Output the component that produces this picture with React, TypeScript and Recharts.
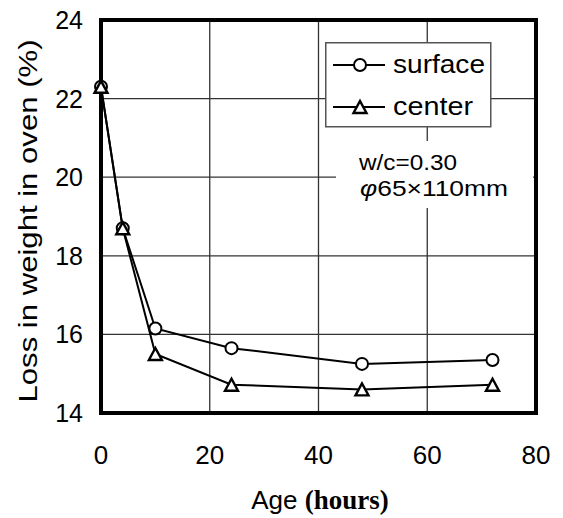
import React from 'react';
import {
  LineChart,
  Line,
  XAxis,
  YAxis,
  CartesianGrid,
  Legend,
  ReferenceArea,
  Customized,
} from 'recharts';

// Loss in weight measured in the oven vs. specimen age
const ageHours = [0, 4, 10, 24, 48, 72];
const surfaceLoss = [22.3, 18.7, 16.15, 15.65, 15.25, 15.35];
const centerLoss = [22.3, 18.7, 15.5, 14.72, 14.6, 14.72];

const xTicks = [0, 20, 40, 60, 80];
const yTicks = [14, 16, 18, 20, 22, 24];

const data = ageHours.map((age, i) => ({
  age,
  surface: surfaceLoss[i],
  center: centerLoss[i],
}));

const FONT = '"Liberation Sans", Arial, sans-serif';
const SERIF = '"Liberation Serif", "Times New Roman", serif';

const CircleDot = (props: any) => {
  const { cx, cy, index } = props;
  if (cx == null || cy == null) return null;
  return <circle key={`c-${index}`} cx={cx} cy={cy} r={6} fill="#fff" stroke="#000" strokeWidth={2} />;
};

const TriangleDot = (props: any) => {
  const { cx, cy, index } = props;
  if (cx == null || cy == null) return null;
  const pts = `${cx},${cy - 6} ${cx - 6.5},${cy + 6} ${cx + 6.5},${cy + 6}`;
  return <polygon key={`t-${index}`} points={pts} fill="#fff" stroke="#000" strokeWidth={2.4} strokeLinejoin="miter" />;
};

const XTick = ({ x, y, payload }: any) => (
  <text x={x} y={y + 51} textAnchor="middle" fontFamily={FONT} fontSize={26} fill="#000">
    {payload.value}
  </text>
);

const YTick = ({ x, y, payload }: any) => (
  <text x={x} y={y + 9} textAnchor="end" fontFamily={FONT} fontSize={25} fill="#000">
    {payload.value}
  </text>
);

const LegendBox = () => (
  <svg width={167} height={86} style={{ display: 'block' }}>
    <rect x={0.75} y={0.75} width={165} height={84} fill="#fff" stroke="#555" strokeWidth={1.5} />
    <line x1={8} y1={23} x2={60} y2={23} stroke="#000" strokeWidth={2} />
    <CircleDot cx={35} cy={23} index={0} />
    <text x={68} y={31} fontFamily={FONT} fontSize={25} textLength={92} lengthAdjust="spacingAndGlyphs">surface</text>
    <line x1={8} y1={65} x2={60} y2={65} stroke="#000" strokeWidth={2} />
    <TriangleDot cx={35} cy={65} index={1} />
    <text x={68} y={73} fontFamily={FONT} fontSize={25} textLength={80} lengthAdjust="spacingAndGlyphs">center</text>
  </svg>
);

// mix/specimen note, on a white patch that hides the grid behind it
const Notes = () => (
  <g fontFamily={FONT} fill="#000">
    <rect x={336} y={141} width={197} height={67} fill="#fff" />
    <text x={359} y={170} fontSize={22} textLength={98} lengthAdjust="spacingAndGlyphs">w/c=0.30</text>
    <text x={360} y={196} fontSize={22} textLength={148} lengthAdjust="spacingAndGlyphs">
      <tspan fontStyle="italic">φ</tspan>65×110mm
    </text>
  </g>
);

const AgeLabel = () => (
  <text x={320} y={509} textAnchor="middle" fill="#000">
    <tspan fontFamily={FONT} fontSize={26}>Age </tspan>
    <tspan fontFamily={SERIF} fontSize={27} fontWeight="bold">(hours)</tspan>
  </text>
);

const LossLabel = () => (
  <text
    x={37}
    y={221}
    transform="rotate(-90, 37, 221)"
    textAnchor="middle"
    fontFamily={FONT}
    fontSize={26}
    textLength={363}
    lengthAdjust="spacingAndGlyphs"
    fill="#000"
  >
    Loss in weight in oven (%)
  </text>
);

export default function App() {
  return (
    <div style={{ position: 'absolute', left: 0, top: 0, width: 563, height: 518, background: '#fff' }}>
      <LineChart width={563} height={518} data={data} margin={{ top: 20, right: 27, bottom: 0, left: 0 }}>
        <CartesianGrid stroke="#333" strokeWidth={1.3} />
        <XAxis
          dataKey="age"
          type="number"
          domain={[0, 80]}
          ticks={xTicks}
          height={105}
          axisLine={false}
          tickLine={false}
          tickSize={0}
          tickMargin={0}
          tick={<XTick />}
          label={{ content: <AgeLabel /> }}
        />
        <YAxis
          type="number"
          domain={[14, 24]}
          ticks={yTicks}
          width={101}
          axisLine={false}
          tickLine={false}
          tickSize={0}
          tickMargin={18}
          tick={<YTick />}
          label={{ content: <LossLabel /> }}
        />
        <Customized component={<Notes />} />
        <ReferenceArea x1={0} x2={80} y1={14} y2={24} fill="none" stroke="#000" strokeWidth={4} />
        <Line
          dataKey="surface"
          stroke="#000"
          strokeWidth={2}
          dot={CircleDot}
          activeDot={false}
          isAnimationActive={false}
        />
        <Line
          dataKey="center"
          stroke="#000"
          strokeWidth={2}
          dot={TriangleDot}
          activeDot={false}
          isAnimationActive={false}
        />
        <Legend
          layout="vertical"
          align="center"
          verticalAlign="middle"
          content={<LegendBox />}
          wrapperStyle={{ position: 'absolute', left: 325, top: 42, width: 167, height: 86 }}
        />
      </LineChart>
    </div>
  );
}
